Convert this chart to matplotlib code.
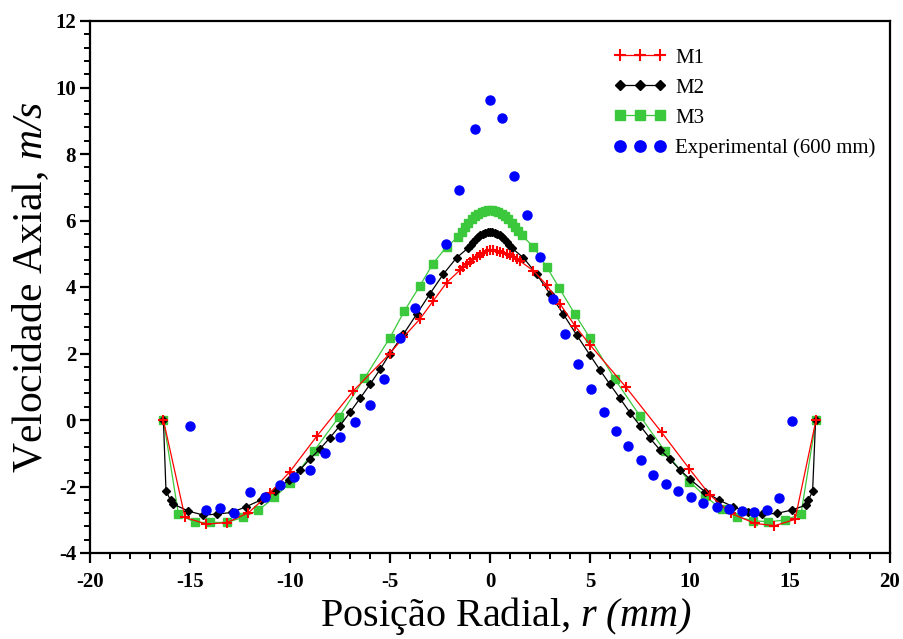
import matplotlib
matplotlib.use("Agg")
import matplotlib.pyplot as plt
from matplotlib.ticker import MultipleLocator

# ---------------- data ----------------
exp_x = [-15.0, -14.2, -13.5, -12.8, -12.0, -11.25, -10.5, -9.8, -9.0, -8.25, -7.5, -6.73, -6.0,
         -5.28, -4.5, -3.75, -3.0, -2.2, -1.53, -0.75, 0.0, 0.6, 1.22, 1.87, 2.5, 3.13, 3.77,
         4.38, 5.03, 5.68, 6.28, 6.92, 7.53, 8.17, 8.8, 9.42, 10.03, 10.67, 11.33, 11.95,
         12.58, 13.22, 13.83, 14.47, 15.08]
exp_y = [-0.17, -2.71, -2.64, -2.79, -2.16, -2.31, -1.96, -1.70, -1.50, -1.0, -0.51, -0.06, 0.45,
         1.23, 2.46, 3.38, 4.24, 5.29, 6.92, 8.75, 9.62, 9.07, 7.35, 6.17, 4.90, 3.63, 2.58,
         1.68, 0.93, 0.25, -0.33, -0.78, -1.20, -1.65, -1.93, -2.14, -2.31, -2.49, -2.61, -2.69,
         -2.73, -2.76, -2.71, -2.34, -0.02]

m1_x = [-16.33, -15.25, -14.2, -13.17, -12.08, -11.0, -10.0, -8.65, -6.83, -5.0,
        -4.33, -3.5, -2.83, -2.17, -1.5, -1.33, -1.17, -1.0, -0.83, -0.67,
        -0.5, -0.33, -0.17, 0.0, 0.17, 0.33, 0.5, 0.67, 0.83, 1.0,
        1.17, 1.33, 1.5, 2.17, 2.83, 3.5, 4.25, 5.0, 6.78, 8.58,
        9.97, 11.0, 12.05, 13.25, 14.22, 15.25, 16.3]
m1_y = [0.0, -2.93, -3.13, -3.09, -2.79, -2.2, -1.55, -0.48, 0.88, 2.0,
        2.49, 3.04, 3.59, 4.13, 4.51, 4.6, 4.68, 4.76, 4.84, 4.9,
        4.96, 5.02, 5.07, 5.1, 5.1, 5.08, 5.06, 5.03, 5.0, 4.96,
        4.9, 4.85, 4.78, 4.49, 4.06, 3.49, 2.83, 2.26, 1.0, -0.37,
        -1.47, -2.26, -2.81, -3.11, -3.18, -2.99, 0.0]

m2_x = [-16.33, -16.2, -15.97, -15.83, -15.08, -14.33, -13.63, -12.92, -12.2, -11.47,
        -10.75, -10.05, -9.5, -9.0, -8.5, -8.0, -7.5, -7.0, -6.5, -6.0,
        -5.5, -5.0, -4.33, -3.67, -3.0, -2.33, -1.67,
        -1.08, -0.96, -0.84, -0.72, -0.6, -0.48, -0.36, -0.24, -0.12, 0.0,
        0.12, 0.24, 0.36, 0.48, 0.6, 0.72, 0.84, 0.96, 1.08,
        1.67, 2.33, 3.0, 3.67, 4.33, 5.0, 5.5, 6.0, 6.5, 7.0,
        7.5, 8.0, 8.5, 9.0, 9.5, 10.0, 10.75, 11.45, 12.17, 12.88,
        13.62, 14.33, 15.08, 15.8, 15.92, 16.13, 16.28]
m2_y = [0.0, -2.14, -2.41, -2.53, -2.74, -2.86, -2.83, -2.78, -2.61, -2.41,
        -2.14, -1.80, -1.5, -1.17, -0.87, -0.53, -0.17, 0.23, 0.65, 1.07,
        1.52, 2.0, 2.58, 3.18, 3.8, 4.39, 4.88,
        5.18, 5.27, 5.35, 5.43, 5.5, 5.55, 5.6, 5.63, 5.65, 5.66,
        5.65, 5.63, 5.6, 5.55, 5.5, 5.43, 5.35, 5.27, 5.18,
        4.88, 4.39, 3.79, 3.18, 2.56, 1.95, 1.5, 1.07, 0.65, 0.22,
        -0.17, -0.55, -0.9, -1.18, -1.5, -1.78, -2.16, -2.41, -2.61, -2.78,
        -2.83, -2.81, -2.71, -2.56, -2.41, -2.14, 0.0]

m3_x = [-16.33, -15.58, -14.75, -14.0, -13.17, -12.33, -11.58, -10.78, -10.0, -8.8,
        -7.55, -6.28, -5.0, -4.28, -3.5, -2.87, -2.17,
        -1.58, -1.42, -1.25, -1.08, -0.92, -0.75, -0.58, -0.42, -0.25, -0.08,
        0.08, 0.25, 0.42, 0.58, 0.75, 0.92, 1.08, 1.25, 1.42, 1.58,
        2.17, 2.83, 3.47, 4.25, 5.0, 6.25, 7.5, 8.75, 9.97, 10.75,
        11.58, 12.33, 13.17, 13.92, 14.75, 15.55, 16.3]
m3_y = [0.0, -2.83, -3.08, -3.08, -3.08, -2.93, -2.71, -2.33, -1.89, -0.93,
        0.09, 1.25, 2.48, 3.28, 4.04, 4.69, 5.21,
        5.51, 5.65, 5.8, 5.93, 6.04, 6.13, 6.2, 6.26, 6.3, 6.32,
        6.32, 6.3, 6.26, 6.2, 6.13, 6.04, 5.93, 5.8, 5.68, 5.56,
        5.21, 4.61, 3.96, 3.18, 2.46, 1.22, 0.12, -0.94, -1.85, -2.29,
        -2.68, -2.91, -3.03, -3.06, -3.01, -2.83, 0.0]

labels = ["M1", "M2", "M3", "Experimental (600 mm)"]

# ---------------- style ----------------
plt.rcParams['font.family'] = ['Liberation Serif', 'DejaVu Serif']
plt.rcParams['mathtext.fontset'] = 'custom'
plt.rcParams['mathtext.rm'] = 'Liberation Serif:italic'
plt.rcParams['mathtext.it'] = 'Liberation Serif:italic'
plt.rcParams['axes.unicode_minus'] = False

fig = plt.figure(figsize=(9.04, 6.39), dpi=100)
ax = fig.add_axes([90/904, 1 - 553/639, 800/904, 532/639])

green = '#3CC83C'
ax.plot(m1_x, m1_y, color='red', lw=0.9, marker='+', ms=7, mew=1.5, label=labels[0], zorder=4)
ax.plot(m2_x, m2_y, color='black', lw=0.9, marker='D', ms=4.2, label=labels[1], zorder=3)
ax.plot(m3_x, m3_y, color=green, lw=0.9, marker='s', ms=5.5, label=labels[2], zorder=2)
ax.plot(exp_x, exp_y, color='blue', lw=0, marker='o', ms=6.5, label=labels[3], zorder=5)

ax.set_xlim(-20, 20)
ax.set_ylim(-4, 12)
ax.xaxis.set_major_locator(MultipleLocator(5))
ax.xaxis.set_minor_locator(MultipleLocator(1))
ax.yaxis.set_major_locator(MultipleLocator(2))
ax.yaxis.set_minor_locator(MultipleLocator(0.4))

for s in ax.spines.values():
    s.set_linewidth(1.6)
ax.tick_params(which='major', direction='out', length=7, width=1.6, top=False, right=False,
               labelsize=15)
ax.tick_params(which='minor', direction='out', length=4.5, width=1.4, top=False, right=False)
ax.tick_params(axis='x', which='major', pad=6.5)
ax.tick_params(axis='y', which='major', pad=3)
for lab in ax.get_xticklabels() + ax.get_yticklabels():
    lab.set_fontweight('bold')

ax.set_xlabel(r'Posição Radial, $r\ (mm)$', fontsize=29)
ax.set_ylabel(r'Velocidade Axial, $m/s$', fontsize=30)
ax.xaxis.set_label_coords(0.52, -0.0795)
ax.yaxis.set_label_coords(-0.049, 0.5)

leg = ax.legend(loc='upper left', bbox_to_anchor=(0.655, 0.949), frameon=False,
                numpoints=3, fontsize=15, handlelength=2.5, handletextpad=0.45,
                labelspacing=0.5, borderpad=0, borderaxespad=0, markerscale=1.25)

fig.savefig('out.png', dpi=100)
